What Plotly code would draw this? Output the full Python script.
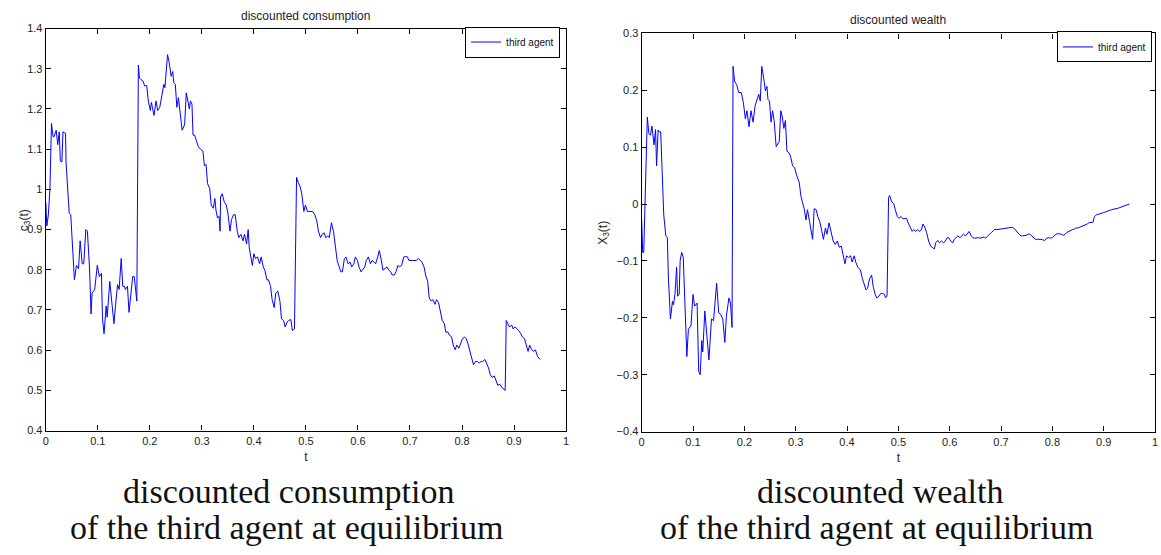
import plotly.graph_objects as go

# ---- discounted consumption c_3(t) of the third agent ----
t_cons = [
    0.000, 0.002, 0.005, 0.008, 0.011, 0.014, 0.016, 0.020, 0.023, 0.026,
    0.028, 0.031, 0.033, 0.036, 0.038, 0.039, 0.042, 0.045, 0.048, 0.050,
    0.055, 0.059, 0.063, 0.066, 0.070, 0.073, 0.077, 0.080, 0.084, 0.087,
    0.089, 0.094, 0.099, 0.103, 0.107, 0.109, 0.112, 0.116, 0.118, 0.123,
    0.126, 0.131, 0.134, 0.138, 0.141, 0.145, 0.148, 0.151, 0.153, 0.157,
    0.160, 0.163, 0.167, 0.170, 0.175, 0.178, 0.180, 0.183, 0.187, 0.190,
    0.194, 0.197, 0.201, 0.203, 0.208, 0.212, 0.215, 0.219, 0.224, 0.227,
    0.229, 0.234, 0.237, 0.241, 0.244, 0.246, 0.249, 0.252, 0.255, 0.258,
    0.262, 0.265, 0.267, 0.270, 0.272, 0.276, 0.278, 0.281, 0.283, 0.286,
    0.290, 0.293, 0.298, 0.302, 0.305, 0.308, 0.311, 0.315, 0.318, 0.322,
    0.325, 0.327, 0.330, 0.333, 0.335, 0.336, 0.339, 0.343, 0.347, 0.350,
    0.354, 0.357, 0.361, 0.364, 0.368, 0.371, 0.375, 0.379, 0.382, 0.386,
    0.389, 0.391, 0.394, 0.397, 0.400, 0.403, 0.407, 0.411, 0.414, 0.418,
    0.421, 0.425, 0.428, 0.432, 0.435, 0.439, 0.442, 0.446, 0.450, 0.453,
    0.457, 0.460, 0.464, 0.467, 0.471, 0.474, 0.478, 0.482, 0.485, 0.489,
    0.492, 0.496, 0.499, 0.503, 0.506, 0.510, 0.513, 0.517, 0.521, 0.524,
    0.528, 0.531, 0.535, 0.538, 0.542, 0.545, 0.549, 0.553, 0.556, 0.560,
    0.563, 0.567, 0.570, 0.574, 0.577, 0.581, 0.585, 0.588, 0.592, 0.595,
    0.599, 0.602, 0.606, 0.609, 0.613, 0.616, 0.620, 0.624, 0.627, 0.631,
    0.634, 0.638, 0.641, 0.645, 0.648, 0.652, 0.656, 0.659, 0.663, 0.666,
    0.670, 0.673, 0.677, 0.680, 0.684, 0.688, 0.691, 0.695, 0.698, 0.705,
    0.712, 0.716, 0.719, 0.723, 0.727, 0.730, 0.734, 0.737, 0.741, 0.744,
    0.748, 0.751, 0.755, 0.759, 0.762, 0.766, 0.769, 0.773, 0.776, 0.780,
    0.783, 0.787, 0.790, 0.794, 0.798, 0.801, 0.805, 0.808, 0.812, 0.815,
    0.819, 0.822, 0.826, 0.830, 0.833, 0.837, 0.840, 0.844, 0.847, 0.851,
    0.854, 0.858, 0.862, 0.865, 0.869, 0.872, 0.876, 0.879, 0.883, 0.885,
    0.888, 0.891, 0.896, 0.898, 0.902, 0.906, 0.909, 0.913, 0.916, 0.920,
    0.923, 0.927, 0.930, 0.934, 0.938, 0.941, 0.945, 0.950,
]
c_cons = [
    0.969, 0.909, 0.937, 1.002, 1.164, 1.131, 1.131, 1.147, 1.111, 1.143,
    1.070, 1.068, 1.143, 1.139, 1.139, 1.066, 1.002, 0.941, 0.937, 0.888,
    0.775, 0.811, 0.803, 0.872, 0.815, 0.815, 0.900, 0.896, 0.807, 0.690,
    0.742, 0.751, 0.811, 0.783, 0.791, 0.678, 0.641, 0.710, 0.682, 0.771,
    0.734, 0.666, 0.710, 0.763, 0.751, 0.828, 0.759, 0.759, 0.751, 0.759,
    0.694, 0.738, 0.783, 0.783, 0.722, 1.309, 1.277, 1.273, 1.269, 1.257,
    1.258, 1.220, 1.196, 1.216, 1.184, 1.220, 1.196, 1.204, 1.240, 1.261,
    1.253, 1.335, 1.317, 1.281, 1.293, 1.265, 1.261, 1.204, 1.228, 1.192,
    1.147, 1.155, 1.163, 1.240, 1.228, 1.200, 1.220, 1.212, 1.135, 1.135,
    1.119, 1.107, 1.099, 1.095, 1.058, 1.062, 1.014, 1.002, 0.961, 0.953,
    0.977, 0.949, 0.929, 0.933, 0.896, 0.981, 0.989, 0.969, 0.961, 0.941,
    0.896, 0.925, 0.937, 0.937, 0.896, 0.880, 0.888, 0.872, 0.888, 0.864,
    0.900, 0.856, 0.832, 0.811, 0.840, 0.828, 0.832, 0.815, 0.832, 0.807,
    0.799, 0.775, 0.775, 0.759, 0.726, 0.706, 0.742, 0.747, 0.722, 0.678,
    0.674, 0.658, 0.670, 0.674, 0.676, 0.649, 0.653, 1.030, 1.018, 1.006,
    0.989, 0.945, 0.961, 0.945, 0.945, 0.945, 0.945, 0.937, 0.921, 0.896,
    0.880, 0.888, 0.892, 0.880, 0.884, 0.880, 0.917, 0.896, 0.868, 0.823,
    0.811, 0.795, 0.795, 0.828, 0.832, 0.815, 0.819, 0.807, 0.815, 0.832,
    0.823, 0.807, 0.795, 0.799, 0.807, 0.823, 0.832, 0.815, 0.823, 0.819,
    0.815, 0.832, 0.848, 0.823, 0.799, 0.803, 0.807, 0.799, 0.795, 0.787,
    0.787, 0.795, 0.811, 0.807, 0.811, 0.832, 0.833, 0.832, 0.823, 0.823,
    0.823, 0.828, 0.823, 0.819, 0.807, 0.787, 0.771, 0.730, 0.722, 0.726,
    0.714, 0.726, 0.718, 0.694, 0.674, 0.666, 0.645, 0.645, 0.637, 0.633,
    0.613, 0.601, 0.613, 0.605, 0.621, 0.629, 0.633, 0.629, 0.613, 0.597,
    0.581, 0.564, 0.572, 0.572, 0.568, 0.572, 0.572, 0.577, 0.568, 0.556,
    0.540, 0.532, 0.536, 0.524, 0.512, 0.516, 0.508, 0.504, 0.500, 0.674,
    0.666, 0.658, 0.662, 0.653, 0.658, 0.653, 0.649, 0.641, 0.633, 0.629,
    0.613, 0.597, 0.613, 0.601, 0.597, 0.601, 0.585, 0.577,
]

# ---- discounted wealth X_3(t) of the third agent ----
t_wealth = [
    0.000, 0.002, 0.004, 0.007, 0.010, 0.011, 0.014, 0.017, 0.020, 0.024,
    0.027, 0.029, 0.032, 0.034, 0.037, 0.040, 0.043, 0.047, 0.050, 0.052,
    0.056, 0.060, 0.062, 0.065, 0.068, 0.070, 0.073, 0.075, 0.078, 0.081,
    0.084, 0.088, 0.091, 0.096, 0.100, 0.103, 0.106, 0.108, 0.111, 0.114,
    0.117, 0.119, 0.123, 0.126, 0.131, 0.136, 0.140, 0.146, 0.150, 0.154,
    0.158, 0.162, 0.165, 0.170, 0.173, 0.176, 0.178, 0.181, 0.185, 0.189,
    0.194, 0.198, 0.202, 0.205, 0.209, 0.213, 0.217, 0.221, 0.225, 0.228,
    0.231, 0.234, 0.238, 0.241, 0.244, 0.246, 0.249, 0.252, 0.255, 0.258,
    0.262, 0.265, 0.268, 0.271, 0.274, 0.277, 0.280, 0.283, 0.287, 0.290,
    0.294, 0.298, 0.302, 0.307, 0.310, 0.313, 0.317, 0.320, 0.323, 0.327,
    0.330, 0.333, 0.336, 0.340, 0.343, 0.347, 0.351, 0.354, 0.358, 0.361,
    0.365, 0.369, 0.373, 0.377, 0.381, 0.385, 0.389, 0.392, 0.396, 0.399,
    0.403, 0.407, 0.410, 0.414, 0.417, 0.421, 0.426, 0.430, 0.433, 0.437,
    0.440, 0.444, 0.448, 0.451, 0.455, 0.458, 0.462, 0.466, 0.469, 0.473,
    0.475, 0.478, 0.481, 0.483, 0.487, 0.491, 0.494, 0.498, 0.501, 0.505,
    0.509, 0.512, 0.516, 0.519, 0.523, 0.527, 0.530, 0.534, 0.537, 0.541,
    0.545, 0.548, 0.552, 0.555, 0.559, 0.563, 0.566, 0.570, 0.573, 0.577,
    0.580, 0.584, 0.588, 0.591, 0.595, 0.598, 0.602, 0.606, 0.609, 0.613,
    0.616, 0.620, 0.624, 0.627, 0.631, 0.634, 0.638, 0.642, 0.645, 0.649,
    0.652, 0.656, 0.659, 0.663, 0.667, 0.670, 0.674, 0.677, 0.681, 0.685,
    0.688, 0.692, 0.699, 0.706, 0.713, 0.721, 0.724, 0.728, 0.731, 0.735,
    0.739, 0.742, 0.746, 0.749, 0.753, 0.756, 0.760, 0.764, 0.767, 0.771,
    0.778, 0.785, 0.789, 0.792, 0.796, 0.800, 0.803, 0.807, 0.810, 0.814,
    0.818, 0.821, 0.825, 0.828, 0.832, 0.835, 0.839, 0.843, 0.846, 0.850,
    0.853, 0.857, 0.861, 0.864, 0.868, 0.871, 0.875, 0.879, 0.882, 0.886,
    0.900, 0.915, 0.929, 0.943, 0.950,
]
x_wealth = [
    -0.028, -0.085, -0.085, 0.004, 0.107, 0.153, 0.124, 0.121, 0.137, 0.104,
    0.131, 0.067, 0.130, 0.127, 0.127, 0.032, -0.019, -0.056, -0.059, -0.128,
    -0.202, -0.171, -0.177, -0.157, -0.111, -0.162, -0.159, -0.099, -0.085, -0.094,
    -0.168, -0.268, -0.220, -0.214, -0.159, -0.179, -0.177, -0.174, -0.294, -0.300,
    -0.240, -0.260, -0.188, -0.220, -0.274, -0.202, -0.205, -0.139, -0.191, -0.194,
    -0.202, -0.243, -0.197, -0.165, -0.174, -0.217, 0.242, 0.216, 0.210, 0.196,
    0.196, 0.179, 0.150, 0.164, 0.136, 0.164, 0.144, 0.173, 0.184, 0.193,
    0.181, 0.242, 0.219, 0.199, 0.207, 0.184, 0.181, 0.144, 0.164, 0.147,
    0.101, 0.107, 0.110, 0.164, 0.153, 0.133, 0.147, 0.093, 0.090, 0.084,
    0.067, 0.064, 0.050, 0.038, 0.015, 0.004, -0.010, -0.028, -0.010, -0.031,
    -0.045, -0.062, -0.008, -0.010, -0.022, -0.031, -0.048, -0.062, -0.042, -0.053,
    -0.033, -0.050, -0.065, -0.071, -0.065, -0.076, -0.074, -0.088, -0.105, -0.091,
    -0.094, -0.091, -0.102, -0.091, -0.102, -0.111, -0.116, -0.131, -0.139, -0.151,
    -0.148, -0.131, -0.125, -0.145, -0.159, -0.165, -0.162, -0.157, -0.157, -0.159,
    -0.165, -0.162, 0.012, 0.015, 0.004, 0.001, -0.010, -0.022, -0.025, -0.022,
    -0.026, -0.025, -0.025, -0.033, -0.042, -0.048, -0.045, -0.048, -0.045, -0.048,
    -0.045, -0.035, -0.042, -0.050, -0.065, -0.074, -0.076, -0.079, -0.068, -0.064,
    -0.068, -0.065, -0.068, -0.066, -0.059, -0.059, -0.065, -0.068, -0.062, -0.059,
    -0.056, -0.059, -0.056, -0.053, -0.056, -0.053, -0.048, -0.056, -0.059, -0.060,
    -0.059, -0.059, -0.060, -0.059, -0.058, -0.060, -0.056, -0.053, -0.050, -0.047,
    -0.044, -0.045, -0.044, -0.043, -0.042, -0.041, -0.042, -0.045, -0.049, -0.053,
    -0.056, -0.056, -0.056, -0.055, -0.053, -0.053, -0.056, -0.060, -0.062, -0.062,
    -0.062, -0.064, -0.060, -0.059, -0.060, -0.059, -0.056, -0.053, -0.052, -0.052,
    -0.053, -0.055, -0.053, -0.050, -0.048, -0.047, -0.045, -0.044, -0.042, -0.042,
    -0.041, -0.039, -0.037, -0.036, -0.035, -0.033, -0.032, -0.032, -0.022, -0.019,
    -0.015, -0.010, -0.007, -0.003, 0.000,
]

# tick labels
t_ticks = [0, 0.1, 0.2, 0.3, 0.4, 0.5, 0.6, 0.7, 0.8, 0.9, 1]
t_tick_text = ["0", "0.1", "0.2", "0.3", "0.4", "0.5", "0.6", "0.7", "0.8", "0.9", "1"]
c_ticks = [0.4, 0.5, 0.6, 0.7, 0.8, 0.9, 1.0, 1.1, 1.2, 1.3, 1.4]
c_tick_text = ["0.4", "0.5", "0.6", "0.7", "0.8", "0.9", "1", "1.1", "1.2", "1.3", "1.4"]
x_ticks = [-0.4, -0.3, -0.2, -0.1, 0.0, 0.1, 0.2, 0.3]
x_tick_text = ["\u22120.4", "\u22120.3", "\u22120.2", "\u22120.1", "0", "0.1", "0.2", "0.3"]

W, H = 1161, 555
LINE_BLUE = "#0000ff"
SANS = "Liberation Sans, Arial, sans-serif"
TICK_FONT = dict(family=SANS, size=11, color="#222222")
CAPTION_FONT = dict(family="Liberation Serif, DejaVu Serif, serif", size=34, color="#111111")

fig = go.Figure()
fig.add_trace(go.Scatter(
    x=t_cons, y=c_cons, mode="lines", name="third agent",
    line=dict(color=LINE_BLUE, width=1), xaxis="x", yaxis="y", legend="legend",
))
fig.add_trace(go.Scatter(
    x=t_wealth, y=x_wealth, mode="lines", name="third agent",
    line=dict(color=LINE_BLUE, width=1), xaxis="x2", yaxis="y2", legend="legend2",
))


def px_x(p):
    return p / W


def px_y(p):
    return 1 - p / H


axis_common = dict(
    showline=True, linecolor="black", linewidth=1.3, mirror="ticks",
    ticks="inside", ticklen=5, tickwidth=1, tickcolor="black",
    showgrid=False, zeroline=False, tickfont=TICK_FONT,
)
legend_common = dict(
    xanchor="right", yanchor="top", bgcolor="white", bordercolor="black",
    borderwidth=1, font=dict(family=SANS, size=10, color="#111111"),
    tracegroupgap=0, itemwidth=30,
)
x_title = dict(text="t", font=dict(family=SANS, size=12, color="#222222"), standoff=6)

fig.update_layout(
    width=W, height=H,
    margin=dict(l=0, r=0, t=0, b=0),
    paper_bgcolor="white", plot_bgcolor="white",
    xaxis=dict(domain=[px_x(43), px_x(566)], range=[0, 1], tickvals=t_ticks,
               ticktext=t_tick_text, anchor="y", title=x_title, **axis_common),
    yaxis=dict(domain=[px_y(434), px_y(23)], range=[0.4, 1.4], tickvals=c_ticks,
               ticktext=c_tick_text, anchor="x", **axis_common),
    xaxis2=dict(domain=[px_x(642), px_x(1158)], range=[0, 1], tickvals=t_ticks,
                ticktext=t_tick_text, anchor="y2", title=x_title, **axis_common),
    yaxis2=dict(domain=[px_y(435), px_y(28)], range=[-0.4, 0.3], tickvals=x_ticks,
                ticktext=x_tick_text, anchor="x2", **axis_common),
    legend=dict(x=px_x(560), y=px_y(21), **legend_common),
    legend2=dict(x=px_x(1155), y=px_y(26), **legend_common),
    showlegend=True,
)


def note(text, cx, cy, font, angle=0):
    return dict(text=text, x=px_x(cx), y=px_y(cy), xref="paper", yref="paper",
                showarrow=False, xanchor="center", yanchor="middle", font=font,
                textangle=angle)


title_font = dict(family=SANS, size=12, color="#222222")
label_font = dict(family=SANS, size=12, color="#222222")
fig.update_layout(annotations=[
    note("discounted consumption", (43 + 566) / 2, 10, title_font),
    note("discounted wealth", (642 + 1158) / 2, 14, title_font),
    note("c<sub>3</sub>(t)", 22, 219, label_font, -90),
    note("X<sub>3</sub>(t)", 604, 232, label_font, -90),
    note("discounted consumption", 287, 496, CAPTION_FONT),
    note("of the third agent at equilibrium", 285, 533, CAPTION_FONT),
    note("discounted wealth", 882, 496, CAPTION_FONT),
    note("of the third agent at equilibrium", 878, 533, CAPTION_FONT),
])

fig.write_html("out.html")
